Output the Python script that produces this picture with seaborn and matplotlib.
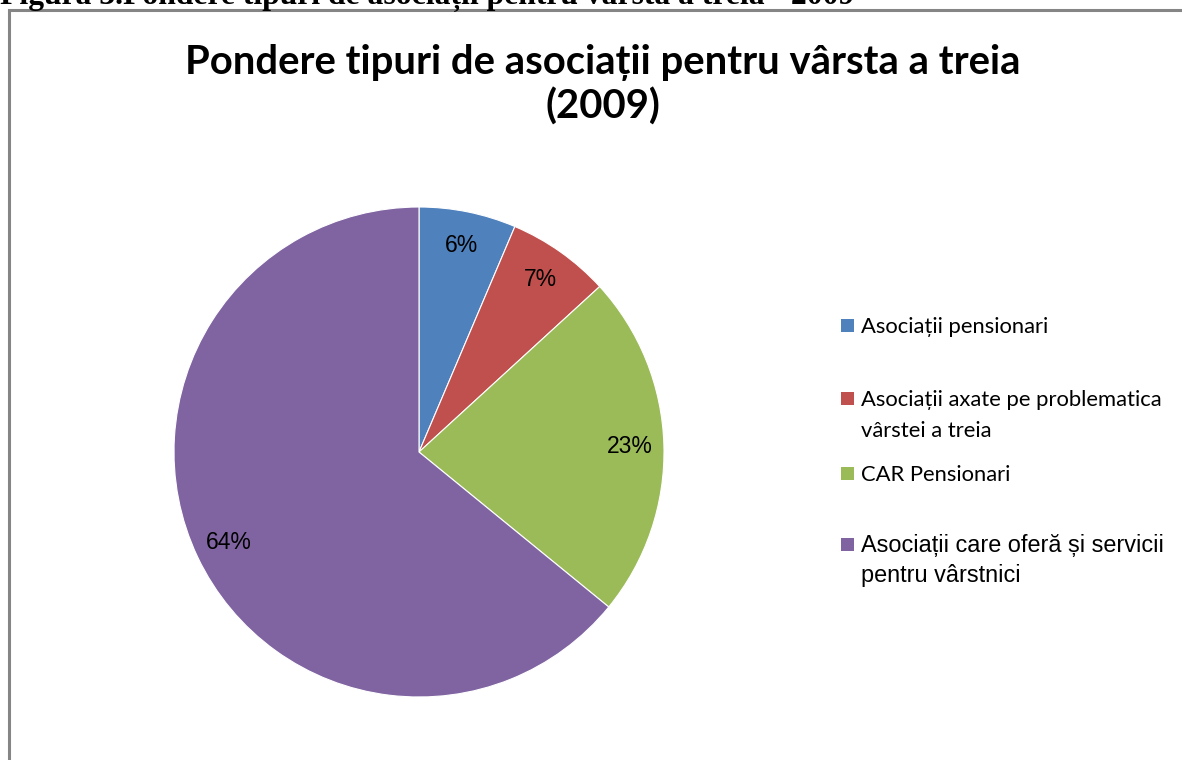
import matplotlib
matplotlib.use("Agg")
import matplotlib.pyplot as plt
import seaborn as sns
from matplotlib.patches import Rectangle

# Data
categories = [
    "Asociații pensionari",
    "Asociații axate pe problematica\nvârstei a treia",
    "CAR Pensionari",
    "Asociații care oferă și servicii\npentru vârstnici",
]
shares = [6.4, 6.8, 22.7, 64.1]
colors = ["#4F81BD", "#C0504D", "#9BBB59", "#8064A2"]
legend_fonts = ["Lato", "Lato", "Lato", "Liberation Sans"]

sns.set_theme(style="white")
plt.rcParams["font.family"] = ["Lato", "DejaVu Sans"]

W, H = 1182, 760
fig = plt.figure(figsize=(W / 100, H / 100), dpi=100)

# outer chart frame (runs past the right / bottom edge like the source screenshot)
fig.patches.append(Rectangle((9 / W, -0.1), 1.2, (H - 10) / H + 0.1, transform=fig.transFigure,
                             fill=False, edgecolor="#858585", linewidth=2.2))

# document caption, cut off at the top in the source
fig.text(0 / W, 1 - 4 / H, "Figura 3.Pondere tipuri de asociații pentru vârsta a treia - 2009",
         ha="left", va="baseline", fontsize=22.8, fontweight="bold", color="black",
         family=["Liberation Serif", "DejaVu Serif"])

fig.text(603 / W, 1 - 85 / H, "Pondere tipuri de asociații pentru vârsta a treia\n(2009)",
         ha="center", va="center", fontsize=28.8, fontweight="bold", linespacing=1.22,
         color="black")

# pie centred at (419, 452) px with radius 245 px
cx, cy, r = 419, 452, 245
ax = fig.add_axes([(cx - r) / W, (H - cy - r) / H, 2 * r / W, 2 * r / H])
wedges, texts, autotexts = ax.pie(
    shares, colors=colors, startangle=90, counterclock=False, radius=1,
    autopct=lambda p: f"{p:.0f}%", pctdistance=0.86,
    wedgeprops=dict(linewidth=0.8, edgecolor="white"),
    textprops=dict(fontsize=16.5, family=["Liberation Sans"], color="black"),
)
ax.set_xlim(-1, 1)
ax.set_ylim(-1, 1)
ax.set_aspect("equal")
ax.axis("off")

# legend on the right: first-line baselines in px from the top
leg_base = [333, 406, 481, 552]
for lab, col, fam, yb in zip(categories, colors, legend_fonts, leg_base):
    fig.patches.append(Rectangle((841 / W, 1 - (yb - 1) / H), 13 / W, 13 / H,
                                 transform=fig.transFigure, facecolor=col, edgecolor="none"))
    size = 15.8 if fam == "Lato" else 16.9
    step = 31 if fam == "Lato" else 30
    for i, line in enumerate(lab.split("\n")):
        fig.text(861 / W, 1 - (yb + i * step) / H, line, ha="left", va="baseline",
                 fontsize=size, family=[fam, "DejaVu Sans"], color="black")

fig.savefig("out.png", dpi=100)
